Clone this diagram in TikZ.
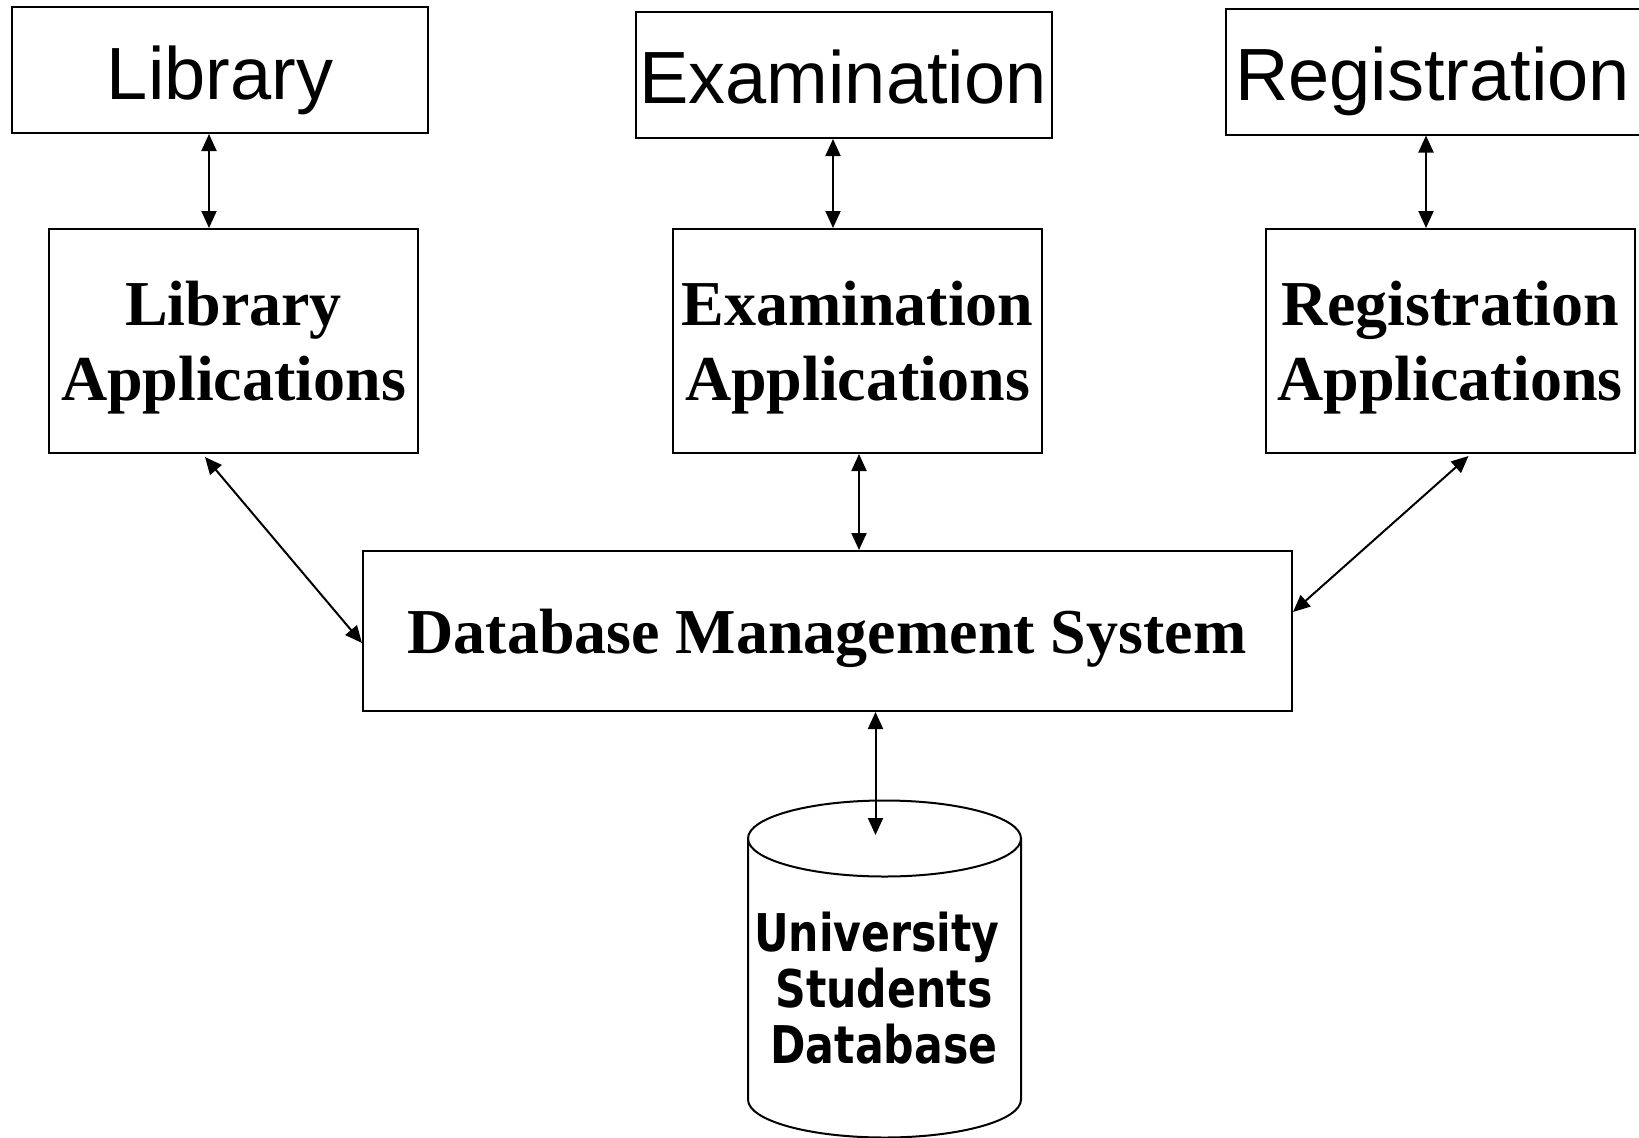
\documentclass[tikz,border=0pt]{standalone}
\usepackage{fontspec}
\setmainfont{Liberation Serif}
\newfontfamily\arialf{Liberation Sans}
\newfontfamily\dbf[FakeStretch=0.82]{DejaVu Sans Bold}
\usetikzlibrary{arrows.meta,calc}
\tikzset{
  box/.style={draw, line width=2pt, inner sep=0pt},
  topbox/.style={box, minimum width=416pt, minimum height=126pt},
  appbox/.style={box, minimum width=369pt, minimum height=224pt},
  ttl/.style={anchor=base, inner sep=0pt, font=\arialf\fontsize{74}{80}\selectfont},
  apt/.style={anchor=base, inner sep=0pt, font=\bfseries\fontsize{64}{75}\selectfont},
  dbt/.style={anchor=base, inner sep=0pt, font=\dbf\fontsize{52}{56}\selectfont},
  biarrow/.style={line width=2pt, {Triangle[length=17pt,width=15pt]}-{Triangle[length=17pt,width=15pt]}},
  cyl/.style={line width=2pt},
}
\begin{document}
\begin{tikzpicture}[x=1pt,y=-1pt]
\useasboundingbox (0,0) rectangle (1639,1138);
% top boxes
\node[topbox] (libT) at (220,70) {};
\node[topbox] (exT) at (843.5,75) {};
\node[topbox] (regT) at (1434,71.5) {};
\node[ttl] (libTt) at (220,99) {Library};
\node[ttl] (exTt) at (843,103.5) {Examination};
\node[ttl] (regTt) at (1432.5,100) {Registration};
% application boxes
\node[appbox] (libA) at (233.5,341) {};
\node[appbox] (exA) at (857.5,341) {};
\node[appbox] (regA) at (1450,341) {};
\node[apt] (libA1) at (233.5,325) {Library};
\node[apt] (libA2) at (233.5,400) {Applications};
\node[apt] (exA1) at (857.5,325) {Examination};
\node[apt] (exA2) at (857.5,400) {Applications};
\node[apt] (regA1) at (1450,325) {Registration};
\node[apt] (regA2) at (1450,400) {Applications};
% DBMS
\node[box, minimum width=929pt, minimum height=160pt] (dbms) at (827.5,631) {};
\node[apt] (dbmst) at (827,653) {Database Management System};
% database cylinder
\coordinate (dbc) at (884.5,838.5);
\coordinate (dbin) at (875.5,835);
\draw[cyl] (dbc) ellipse [x radius=136.5pt, y radius=38pt];
\draw[cyl] ($(dbc)+(-136.5,0)$) -- ($(dbc)+(-136.5,261)$)
  arc[start angle=180, end angle=360, x radius=136.5pt, y radius=38pt]
  -- ($(dbc)+(136.5,0)$);
\node[dbt] (db1) at (877,951) {University};
\node[dbt] (db2) at (884,1007) {Students};
\node[dbt] (db3) at (884,1063) {Database};
% connectors
\draw[biarrow] ($(libT.south)+(-11,0)$) -- ($(libA.north)+(-24.5,0)$);
\draw[biarrow] ($(exT.south)+(-10.5,0)$) -- ($(exA.north)+(-24.5,0)$);
\draw[biarrow] ($(regT.south)+(-8,0)$) -- ($(regA.north)+(-24,0)$);
\draw[biarrow] ($(libA.south west)+(157,3)$) -- ($(dbms.north west)+(0,93)$);
\draw[biarrow] ($(exA.south)+(1.5,0)$) -- ($(dbms.north)+(31.5,0)$);
\draw[biarrow] ($(regA.south east)+(-167,2)$) -- ($(dbms.north east)+(0,62)$);
\draw[biarrow] ($(dbms.south)+(48,0)$) -- (dbin);
\end{tikzpicture}
\end{document}
